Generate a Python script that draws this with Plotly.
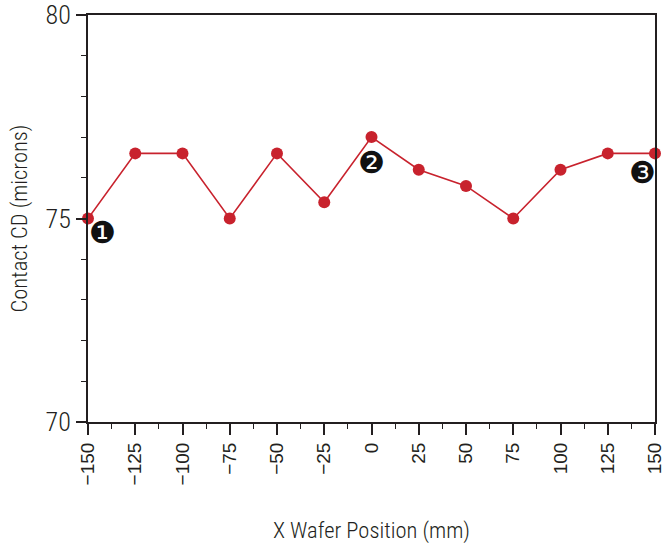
import plotly.graph_objects as go

x_pos = [-150, -125, -100, -75, -50, -25, 0, 25, 50, 75, 100, 125, 150]
cd_vals = [75.0, 76.6, 76.6, 75.0, 76.6, 75.4, 77.0, 76.2, 75.8, 75.0, 76.2, 76.6, 76.6]
x_ticks = [-150, -125, -100, -75, -50, -25, 0, 25, 50, 75, 100, 125, 150]
x_ticklabels = ["\u2212150", "\u2212125", "\u2212100", "\u221275", "\u221250", "\u221225", "0",
                "25", "50", "75", "100", "125", "150"]
y_ticks = [70, 75, 80]
callouts = [("\u2776", -150, 75.0, 14, -14), ("\u2777", 0, 77.0, 0, -25), ("\u2778", 150, 76.6, -13, -19)]

RED = "#c8222d"
AX = "#231f20"
FONT = "Roboto Condensed Light, Roboto Condensed, Liberation Sans Narrow, Liberation Sans, sans-serif"

fig = go.Figure()
fig.add_trace(go.Scatter(
    x=x_pos, y=cd_vals, mode="lines+markers",
    line=dict(color=RED, width=1.6),
    marker=dict(color=RED, size=12),
    showlegend=False, cliponaxis=False,
))

for txt, xv, yv, dx, dy in callouts:
    fig.add_annotation(x=xv, y=yv, text=txt, showarrow=False,
                       xshift=dx, yshift=dy,
                       font=dict(family="DejaVu Sans", size=30, color="#111111"))

fig.update_layout(
    width=671, height=548,
    margin=dict(l=88, r=16, t=15, b=126),
    plot_bgcolor="white", paper_bgcolor="white",
    font=dict(family=FONT, color=AX),
    xaxis=dict(
        range=[-150, 150], tickvals=x_ticks, ticktext=x_ticklabels,
        tickangle=-90, tickfont=dict(size=19, family="Liberation Sans, Arial, sans-serif"),
        automargin=False,
        ticks="outside", ticklen=11, tickwidth=1.5, tickcolor=AX,
        minor=dict(dtick=12.5, tick0=0, ticks="outside", ticklen=5, tickwidth=1.2, tickcolor=AX),
        showline=True, linecolor=AX, linewidth=2, mirror=True,
        showgrid=False, zeroline=False,
        title=dict(text="X Wafer Position (mm)", font=dict(size=22.5), standoff=38),
    ),
    yaxis=dict(
        range=[70, 80], tickvals=y_ticks, tickfont=dict(size=26), automargin=False,
        ticks="outside", ticklen=10, tickwidth=1.5, tickcolor=AX,
        minor=dict(dtick=1, tick0=70, ticks="outside", ticklen=5, tickwidth=1.2, tickcolor=AX),
        showline=True, linecolor=AX, linewidth=2, mirror=True,
        showgrid=False, zeroline=False,
        title=dict(text="Contact CD (microns)", font=dict(size=22.5), standoff=12),
    ),
)

fig.write_html(
    "out.html",
    config={"displayModeBar": False},
    post_script="document.body.style.margin='0';document.documentElement.style.overflow='hidden';",
)
